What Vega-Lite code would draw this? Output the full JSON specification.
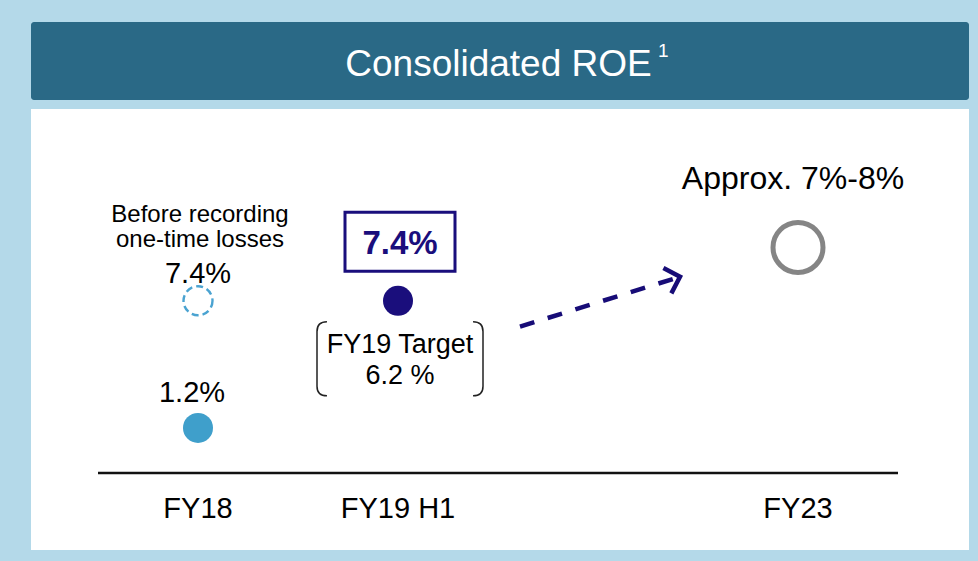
{
  "$schema": "https://vega.github.io/schema/vega-lite/v6.json",
  "background": "#B4D9E9",
  "padding": {"left": 31, "top": 22, "right": 9, "bottom": 11},
  "spacing": 9,
  "config": {"view": {"stroke": null}, "font": "Liberation Sans"},
  "datasets": {
    "periods": [
      {"period": "FY18", "t": 1},
      {"period": "FY19 H1", "t": 2},
      {"period": "FY23", "t": 4}
    ],
    "roe": [
      {"period": "FY18", "t": 1, "level": 1.2, "series": "FY18 actual", "label": "1.2%"},
      {"period": "FY18", "t": 1, "level": 7.4, "series": "FY18 before one-time losses", "label": "7.4%", "note": "Before recording\none-time losses"},
      {"period": "FY19 H1", "t": 2, "level": 7.4, "series": "FY19 H1 actual", "label": "7.4%", "note": "FY19 Target\n6.2 %"},
      {"period": "FY23", "t": 4, "level": 10, "series": "FY23 target", "label": "Approx. 7%-8%"}
    ],
    "arrow": [
      {"t": 2.61, "level": 6.14, "t2": 3.41, "level2": 8.57}
    ],
    "baseline": [
      {"from": 0.5, "to": 4.5, "level": -1}
    ]
  },
  "vconcat": [
    {
      "width": 938,
      "height": 78,
      "view": {"fill": "#2A6986", "stroke": null, "cornerRadius": 3},
      "data": {"values": [{"title": "Consolidated ROE", "note": "1"}]},
      "encoding": {
        "x": {"datum": 0.5, "type": "quantitative", "scale": {"domain": [0, 1], "nice": false, "zero": false}, "axis": null},
        "y": {"datum": 0.5, "type": "quantitative", "scale": {"domain": [0, 1], "nice": false, "zero": false}, "axis": null}
      },
      "layer": [
        {
          "mark": {"type": "text", "dx": -1.5, "dy": 15, "fontSize": 37, "color": "white", "align": "center", "baseline": "alphabetic"},
          "encoding": {"text": {"field": "title"}}
        },
        {
          "mark": {"type": "text", "dx": 158, "dy": -4, "fontSize": 19, "color": "white", "align": "left", "baseline": "alphabetic"},
          "encoding": {"text": {"field": "note"}}
        }
      ]
    },
    {
      "width": 938,
      "height": 441,
      "view": {"fill": "white", "stroke": null},
      "layer": [
        {
          "data": {"name": "baseline"},
          "mark": {"type": "rule", "strokeWidth": 2.5, "color": "#111111"},
          "encoding": {
            "x": {"field": "from", "type": "quantitative", "scale": {"domain": [0.165, 4.855], "nice": false, "zero": false}, "axis": null},
            "x2": {"field": "to"},
            "y": {"field": "level", "type": "quantitative", "scale": {"domain": [-4.75, 16.75], "nice": false, "zero": false}, "axis": null}
          }
        },
        {
          "data": {"name": "periods"},
          "mark": {"type": "text", "fontSize": 29, "color": "#000000", "baseline": "middle", "dy": 36},
          "encoding": {
            "x": {"field": "t", "type": "quantitative"},
            "y": {"datum": -1, "type": "quantitative"},
            "text": {"field": "period"}
          }
        },
        {
          "data": {"name": "roe"},
          "transform": [{"filter": "datum.series === 'FY18 actual'"}],
          "layer": [
            {"mark": {"type": "point", "shape": "circle", "filled": true, "size": 900, "color": "#3F9FCB", "opacity": 1}},
            {"mark": {"type": "text", "fontSize": 29, "dy": -26, "dx": -6, "baseline": "alphabetic", "color": "#000000"}, "encoding": {"text": {"field": "label"}}}
          ],
          "encoding": {"x": {"field": "t", "type": "quantitative"}, "y": {"field": "level", "type": "quantitative"}}
        },
        {
          "data": {"name": "roe"},
          "transform": [{"filter": "datum.series === 'FY18 before one-time losses'"}],
          "layer": [
            {"mark": {"type": "point", "shape": "circle", "filled": false, "size": 841, "stroke": "#4AA3D1", "strokeWidth": 2.4, "strokeDash": [7, 4], "opacity": 1}},
            {"mark": {"type": "text", "fontSize": 29, "dy": -18, "baseline": "alphabetic", "color": "#000000"}, "encoding": {"text": {"field": "label"}}},
            {"mark": {"type": "text", "fontSize": 24, "dy": -79, "dx": 2, "baseline": "alphabetic", "lineBreak": "\n", "lineHeight": 25, "color": "#000000"}, "encoding": {"text": {"field": "note"}}}
          ],
          "encoding": {"x": {"field": "t", "type": "quantitative"}, "y": {"field": "level", "type": "quantitative"}}
        },
        {
          "data": {"name": "roe"},
          "transform": [{"filter": "datum.series === 'FY19 H1 actual'"}],
          "layer": [
            {"mark": {"type": "point", "shape": "circle", "filled": true, "size": 900, "color": "#1A0E7C", "opacity": 1}},
            {"mark": {"type": "point", "shape": "M -1 -0.536 L 1 -0.536 L 1 0.536 L -1 0.536 Z", "filled": false, "size": 12100, "stroke": "#1A0E7C", "strokeWidth": 3, "yOffset": -59, "xOffset": 2, "opacity": 1}},
            {"mark": {"type": "text", "fontSize": 33, "fontWeight": "bold", "dy": -47, "dx": 2, "baseline": "alphabetic", "color": "#1A0E7C"}, "encoding": {"text": {"field": "label"}}},
            {"mark": {"type": "point", "shape": "M -0.88 -0.446 Q -1 -0.446 -1 -0.33 L -1 0.33 Q -1 0.446 -0.88 0.446 M 0.88 -0.446 Q 1 -0.446 1 -0.33 L 1 0.33 Q 1 0.446 0.88 0.446", "filled": false, "size": 27556, "stroke": "#222222", "strokeWidth": 1.5, "yOffset": 58, "xOffset": 2, "opacity": 1}},
            {"mark": {"type": "text", "fontSize": 27, "dy": 52, "dx": 2, "baseline": "alphabetic", "lineBreak": "\n", "lineHeight": 31, "color": "#000000"}, "encoding": {"text": {"field": "note"}}}
          ],
          "encoding": {"x": {"field": "t", "type": "quantitative"}, "y": {"field": "level", "type": "quantitative"}}
        },
        {
          "data": {"name": "roe"},
          "transform": [{"filter": "datum.series === 'FY23 target'"}],
          "layer": [
            {"mark": {"type": "point", "shape": "circle", "filled": false, "size": 2500, "stroke": "#858585", "strokeWidth": 5, "opacity": 1}},
            {"mark": {"type": "text", "fontSize": 32, "dy": -58, "dx": -5, "baseline": "alphabetic", "color": "#000000"}, "encoding": {"text": {"field": "label"}}}
          ],
          "encoding": {"x": {"field": "t", "type": "quantitative"}, "y": {"field": "level", "type": "quantitative"}}
        },
        {
          "data": {"name": "arrow"},
          "layer": [
            {
              "mark": {"type": "rule", "stroke": "#170C77", "strokeWidth": 4.5, "strokeDash": [15, 14]},
              "encoding": {
                "x": {"field": "t", "type": "quantitative"},
                "y": {"field": "level", "type": "quantitative"},
                "x2": {"field": "t2"},
                "y2": {"field": "level2"}
              }
            },
            {
              "mark": {"type": "point", "shape": "M -1 -1 L 0 0 L -1 1", "filled": false, "size": 700, "stroke": "#170C77", "strokeWidth": 4.5, "angle": -17.4, "opacity": 1},
              "encoding": {
                "x": {"field": "t2", "type": "quantitative"},
                "y": {"field": "level2", "type": "quantitative"}
              }
            }
          ]
        }
      ]
    }
  ]
}
